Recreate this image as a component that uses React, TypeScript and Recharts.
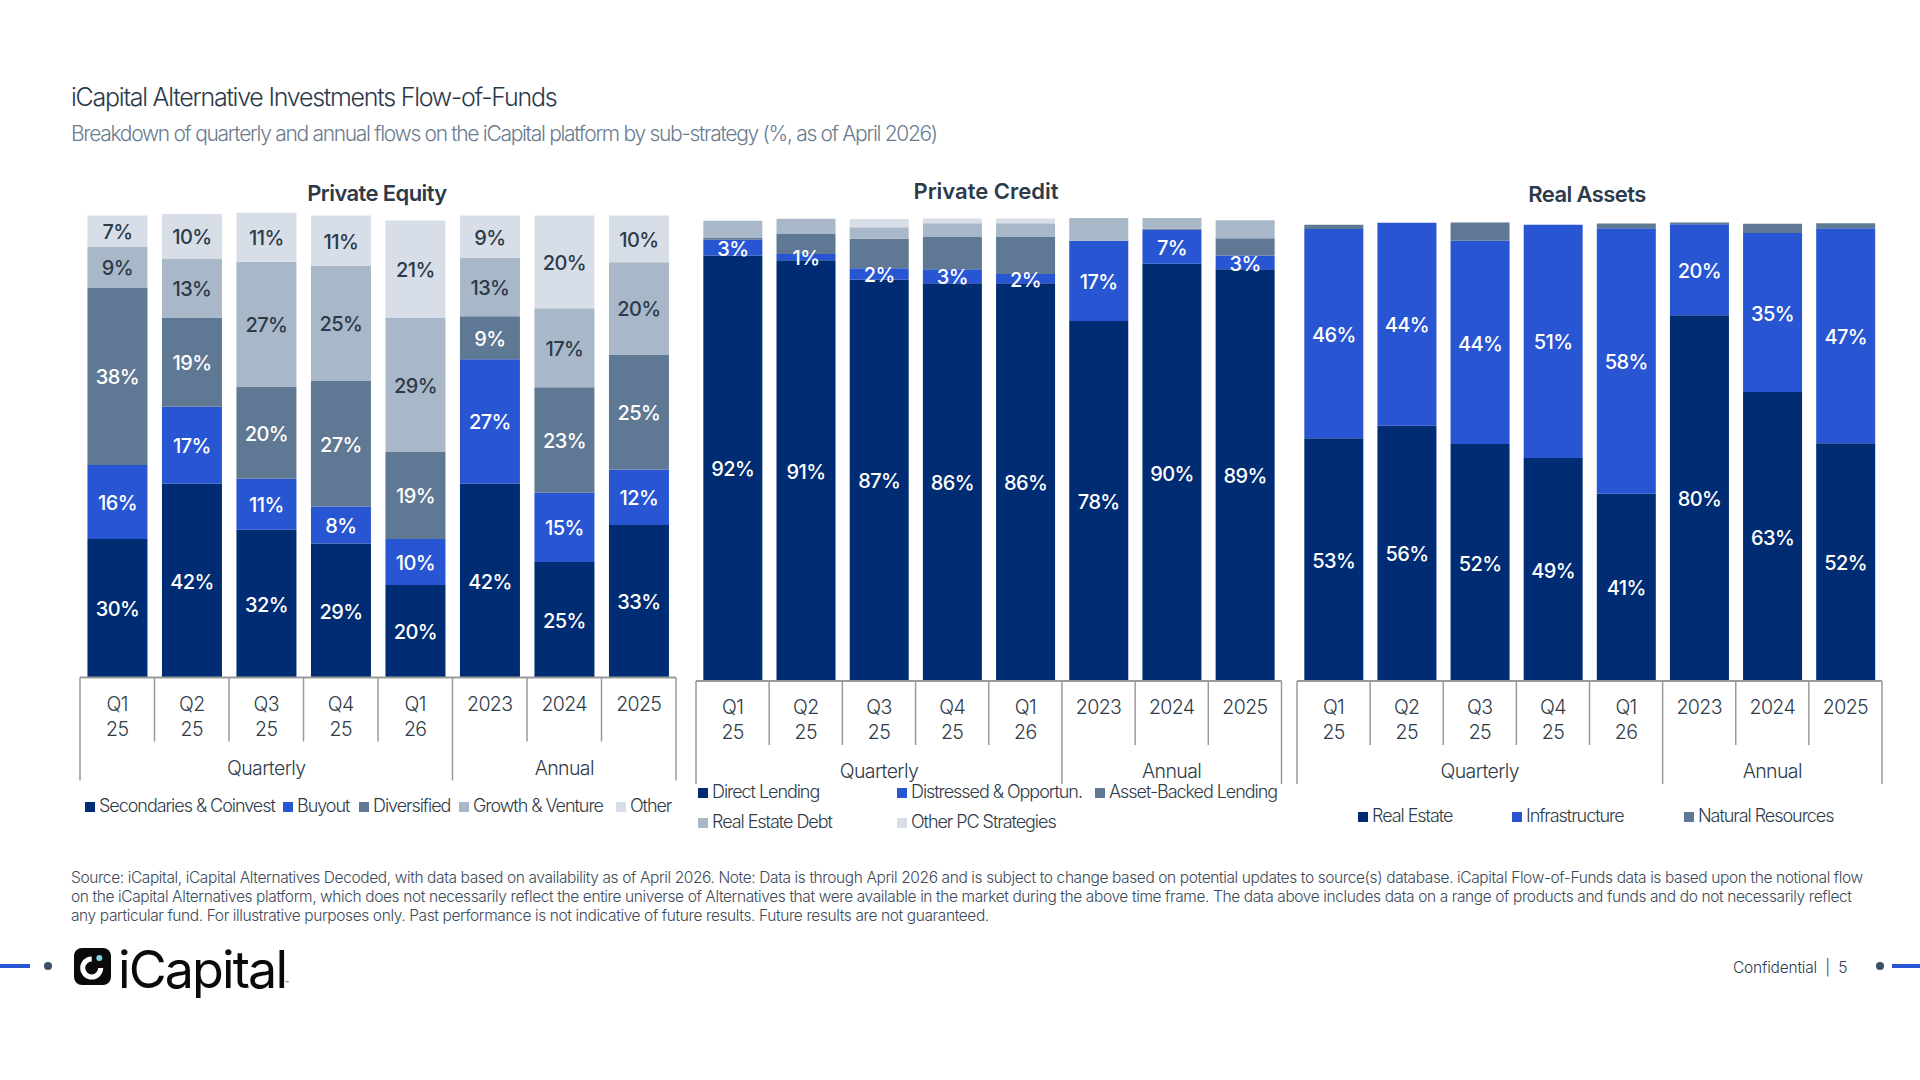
import { BarChart, Bar, XAxis, YAxis, Legend, LabelList } from 'recharts';

const periods = ['Q1 25', 'Q2 25', 'Q3 25', 'Q4 25', 'Q1 26', '2023', '2024', '2025'];
const groupLabels = ['Quarterly', 'Annual'];

// private equity
const peSecondaries = [30, 42, 32, 29, 20, 42, 25, 33];
const peBuyout = [16, 16.6, 11, 8, 10, 26.9, 15, 12];
const peDiversified = [38.4, 19.3, 20, 27.2, 18.9, 9.3, 22.8, 24.9];
const peGrowth = [8.9, 12.8, 27, 25, 29, 12.6, 17.1, 20];
const peOther = [6.7, 9.6, 10.6, 10.8, 21, 9.2, 20.1, 10.1];

// private credit
const pcDirect = [92.1, 91.05, 86.9, 86.1, 86.1, 77.9, 90.3, 89.1];
const pcDistressed = [3.4, 1.4, 2.45, 3, 2, 17.4, 7.4, 3];
const pcAssetBacked = [0.4, 4.3, 6.4, 7, 8, 0, 0.2, 3.75];
const pcRealEstateDebt = [3.7, 3.3, 2.45, 3, 3, 4.9, 2.3, 3.9];
const pcOther = [0, 0, 1.8, 1, 1, 0, 0, 0];

// real assets
const raRealEstate = [52.75, 55.5, 51.5, 48.5, 40.7, 79.5, 62.8, 51.7];
const raInfrastructure = [45.5, 44.1, 44.2, 50.7, 57.75, 19.8, 34.6, 46.7];
const raNatural = [0.94, 0, 4, 0, 1, 0.4, 2, 1.1];

const NAVY = '#002c73';
const BLUE = '#2855d2';
const SLATE = '#5f7893';
const MIST = '#a9b8c9';
const PALE = '#d7dee7';
const INK = '#2c3a4a';
const FONT = 'Inter, sans-serif';

const DOMAIN_MAX = 105;
const CHART_TOP = 140;
const AXIS_HEIGHT = 170;

function rows(series: Record<string, number[]>) {
  return periods.map((p, i) => {
    const row: Record<string, any> = { period: p };
    Object.keys(series).forEach((k) => {
      row[k] = series[k][i];
    });
    return row;
  });
}

function AxisTick(props: any) {
  const { x, y, payload, index, band } = props;
  const left = x - band / 2;
  const deep = index === 0 || index === 5;
  const lines = String(payload.value).split(' ');
  const textStyle = { fontFamily: FONT, fontSize: 19.5, fontWeight: 300, fill: '#2f3b49', letterSpacing: -0.6 };
  return (
    <g>
      <line x1={left} x2={left} y1={y} y2={y + (deep ? 103 : 64)} stroke="#9a9a9a" strokeWidth={1.5} />
      {index === 7 && <line x1={x + band / 2} x2={x + band / 2} y1={y} y2={y + 103} stroke="#9a9a9a" strokeWidth={1.5} />}
      {lines.map((t, i) => (
        <text key={t} x={x} y={y + 33 + i * 25} textAnchor="middle" {...textStyle}>
          {t}
        </text>
      ))}
      {index === 2 && (
        <text x={x} y={y + 97} textAnchor="middle" {...textStyle}>
          {groupLabels[0]}
        </text>
      )}
      {index === 6 && (
        <text x={x} y={y + 97} textAnchor="middle" {...textStyle}>
          {groupLabels[1]}
        </text>
      )}
    </g>
  );
}

function PanelLegend({ payload, slots, offsetLeft }: any) {
  return (
    <div>
      {(payload || []).map((item: any, i: number) => (
        <div
          key={item.value}
          style={{
            position: 'absolute',
            left: slots[i][0] - offsetLeft,
            top: slots[i][1] - CHART_TOP - 12,
            height: 24,
            lineHeight: '24px',
            whiteSpace: 'nowrap',
            fontFamily: FONT,
            fontSize: 18,
            fontWeight: 300,
            letterSpacing: -1.05,
            color: '#2f3b49',
          }}
        >
          <span style={{ display: 'inline-block', width: 10, height: 10, marginRight: 4, background: item.color }} />
          {item.value}
        </div>
      ))}
    </div>
  );
}

interface SeriesDef {
  key: string;
  name: string;
  color: string;
  labelColor?: string;
}

function StackPanel({ left, right, base, perPct, data, series, slots }: { left: number; right: number; base: number; perPct: number; data: any[]; series: SeriesDef[]; slots: number[][] }) {
  const pad = 20;
  const chartLeft = left - pad;
  const plotHeight = perPct * DOMAIN_MAX;
  const marginTop = base - plotHeight - CHART_TOP;
  const band = (right - left) / periods.length;
  return (
    <div style={{ position: 'absolute', left: chartLeft, top: CHART_TOP }}>
      <BarChart
        width={right - left + pad * 2}
        height={marginTop + plotHeight + AXIS_HEIGHT}
        data={data}
        barCategoryGap="10%"
        margin={{ top: marginTop, right: pad, bottom: 0, left: pad }}
      >
        <XAxis
          dataKey="period"
          height={AXIS_HEIGHT}
          interval={0}
          tickLine={false}
          tickSize={0}
          tickMargin={0}
          axisLine={{ stroke: '#9a9a9a', strokeWidth: 2 }}
          tick={<AxisTick band={band} />}
        />
        <YAxis hide domain={[0, DOMAIN_MAX]} />
        <Legend
          itemSorter={null}
          wrapperStyle={{ position: 'absolute', left: 0, top: 0, width: 0, height: 0 }}
          content={<PanelLegend slots={slots} offsetLeft={chartLeft} />}
        />
        {series.map((s) => (
          <Bar key={s.key} dataKey={s.key} name={s.name} stackId="a" fill={s.color} isAnimationActive={false}>
            {s.labelColor && (
              <LabelList
                dataKey={s.key}
                position="center"
                fill={s.labelColor}
                fontFamily={FONT}
                fontSize={20}
                fontWeight={500}
                letterSpacing={-0.6}
                dy={1}
                formatter={(v: any) => `${Math.round(v)}%`}
              />
            )}
          </Bar>
        ))}
      </BarChart>
    </div>
  );
}

const peData = rows({ a: peSecondaries, b: peBuyout, c: peDiversified, d: peGrowth, e: peOther });
const pcData = rows({ a: pcDirect, b: pcDistressed, c: pcAssetBacked, d: pcRealEstateDebt, e: pcOther });
const raData = rows({ a: raRealEstate, b: raInfrastructure, c: raNatural });

const peSeries: SeriesDef[] = [
  { key: 'a', name: 'Secondaries & Coinvest', color: NAVY, labelColor: '#fff' },
  { key: 'b', name: 'Buyout', color: BLUE, labelColor: '#fff' },
  { key: 'c', name: 'Diversified', color: SLATE, labelColor: '#fff' },
  { key: 'd', name: 'Growth & Venture', color: MIST, labelColor: INK },
  { key: 'e', name: 'Other', color: PALE, labelColor: INK },
];
const pcSeries: SeriesDef[] = [
  { key: 'a', name: 'Direct Lending', color: NAVY, labelColor: '#fff' },
  { key: 'b', name: 'Distressed & Opportun.', color: BLUE, labelColor: '#fff' },
  { key: 'c', name: 'Asset-Backed Lending', color: SLATE },
  { key: 'd', name: 'Real Estate Debt', color: MIST },
  { key: 'e', name: 'Other PC Strategies', color: PALE },
];
const raSeries: SeriesDef[] = [
  { key: 'a', name: 'Real Estate', color: NAVY, labelColor: '#fff' },
  { key: 'b', name: 'Infrastructure', color: BLUE, labelColor: '#fff' },
  { key: 'c', name: 'Natural Resources', color: SLATE },
];

const sourceLines = [
  'Source: iCapital, iCapital Alternatives Decoded, with data based on availability as of April 2026. Note: Data is through April 2026 and is subject to change based on potential updates to source(s) database. iCapital Flow-of-Funds data is based upon the notional flow',
  'on the iCapital Alternatives platform, which does not necessarily reflect the entire universe of Alternatives that were available in the market during the above time frame. The data above includes data on a range of products and funds and do not necessarily reflect',
  'any particular fund. For illustrative purposes only. Past performance is not indicative of future results. Future results are not guaranteed.',
];

function PageText({ x, y, size, weight, color, spacing, center, children }: any) {
  return (
    <div
      style={{
        position: 'absolute',
        left: x,
        top: y,
        transform: center ? 'translate(-50%, -50%)' : 'translateY(-50%)',
        fontFamily: FONT,
        fontSize: size,
        fontWeight: weight,
        color,
        letterSpacing: spacing,
        whiteSpace: 'nowrap',
      }}
    >
      {children}
    </div>
  );
}

export default function App() {
  return (
    <div style={{ position: 'absolute', left: 0, top: 0, width: 1920, height: 1080, overflow: 'hidden', background: '#fff' }}>
      <PageText x={71} y={97} size={25} weight={300} color="#2c3a4a" spacing={-1.25}>
        iCapital Alternative Investments Flow-of-Funds
      </PageText>
      <PageText x={71} y={132.5} size={21} weight={300} color="#6b7c8f" spacing={-1.3}>
        Breakdown of quarterly and annual flows on the iCapital platform by sub-strategy (%, as of April 2026)
      </PageText>

      <PageText center x={377} y={193} size={22} weight={600} color={INK} spacing={-0.6}>Private Equity</PageText>
      <PageText center x={986} y={191} size={22} weight={600} color={INK} spacing={0}>Private Credit</PageText>
      <PageText center x={1587} y={194} size={22} weight={600} color={INK} spacing={-0.6}>Real Assets</PageText>

      <StackPanel
        left={80}
        right={676}
        base={677.5}
        perPct={4.62}
        data={peData}
        series={peSeries}
        slots={[[85, 806], [283, 806], [359, 806], [459, 806], [616, 806]]}
      />
      <StackPanel
        left={695.5}
        right={1281}
        base={681}
        perPct={4.62}
        data={pcData}
        series={pcSeries}
        slots={[[698, 792], [897, 792], [1095, 792], [698, 822], [897, 822]]}
      />
      <StackPanel
        left={1297}
        right={1882}
        base={681}
        perPct={4.6}
        data={raData}
        series={raSeries}
        slots={[[1358, 816], [1512, 816], [1684, 816]]}
      />

      {sourceLines.map((t, i) => (
        <PageText key={i} x={71} y={877 + i * 18.8} size={15.5} weight={300} color="#3c4a5a" spacing={-0.39}>
          {t}
        </PageText>
      ))}

      <div style={{ position: 'absolute', left: 0, top: 964, width: 30, height: 4, background: BLUE }} />
      <div style={{ position: 'absolute', left: 44, top: 962, width: 8, height: 8, borderRadius: 4, background: '#3b4f66' }} />
      <svg style={{ position: 'absolute', left: 74, top: 948 }} width={37} height={37} viewBox="0 0 37 37">
        <rect width={37} height={37} rx={8} fill="#0a0a0a" />
        <path d="M 17.7 11 A 9 9 0 1 0 26.7 20" fill="none" stroke="#fff" strokeWidth={5} />
        <circle cx={25.3} cy={10} r={3} fill="#7fd4e6" />
      </svg>
      <PageText x={118} y={969} size={52} weight={400} color="#0a0a0a" spacing={-1.9}>iCapital</PageText>
      <PageText x={285} y={983} size={6} weight={400} color="#0a0a0a" spacing={0}>™</PageText>

      <PageText x={1733} y={967} size={15.5} weight={300} color="#2c3a4a" spacing={-0.2}>Confidential&nbsp;&nbsp;|&nbsp;&nbsp;5</PageText>
      <div style={{ position: 'absolute', left: 1876, top: 962, width: 8, height: 8, borderRadius: 4, background: '#3b4f66' }} />
      <div style={{ position: 'absolute', left: 1892, top: 964, width: 28, height: 4, background: BLUE }} />
    </div>
  );
}
